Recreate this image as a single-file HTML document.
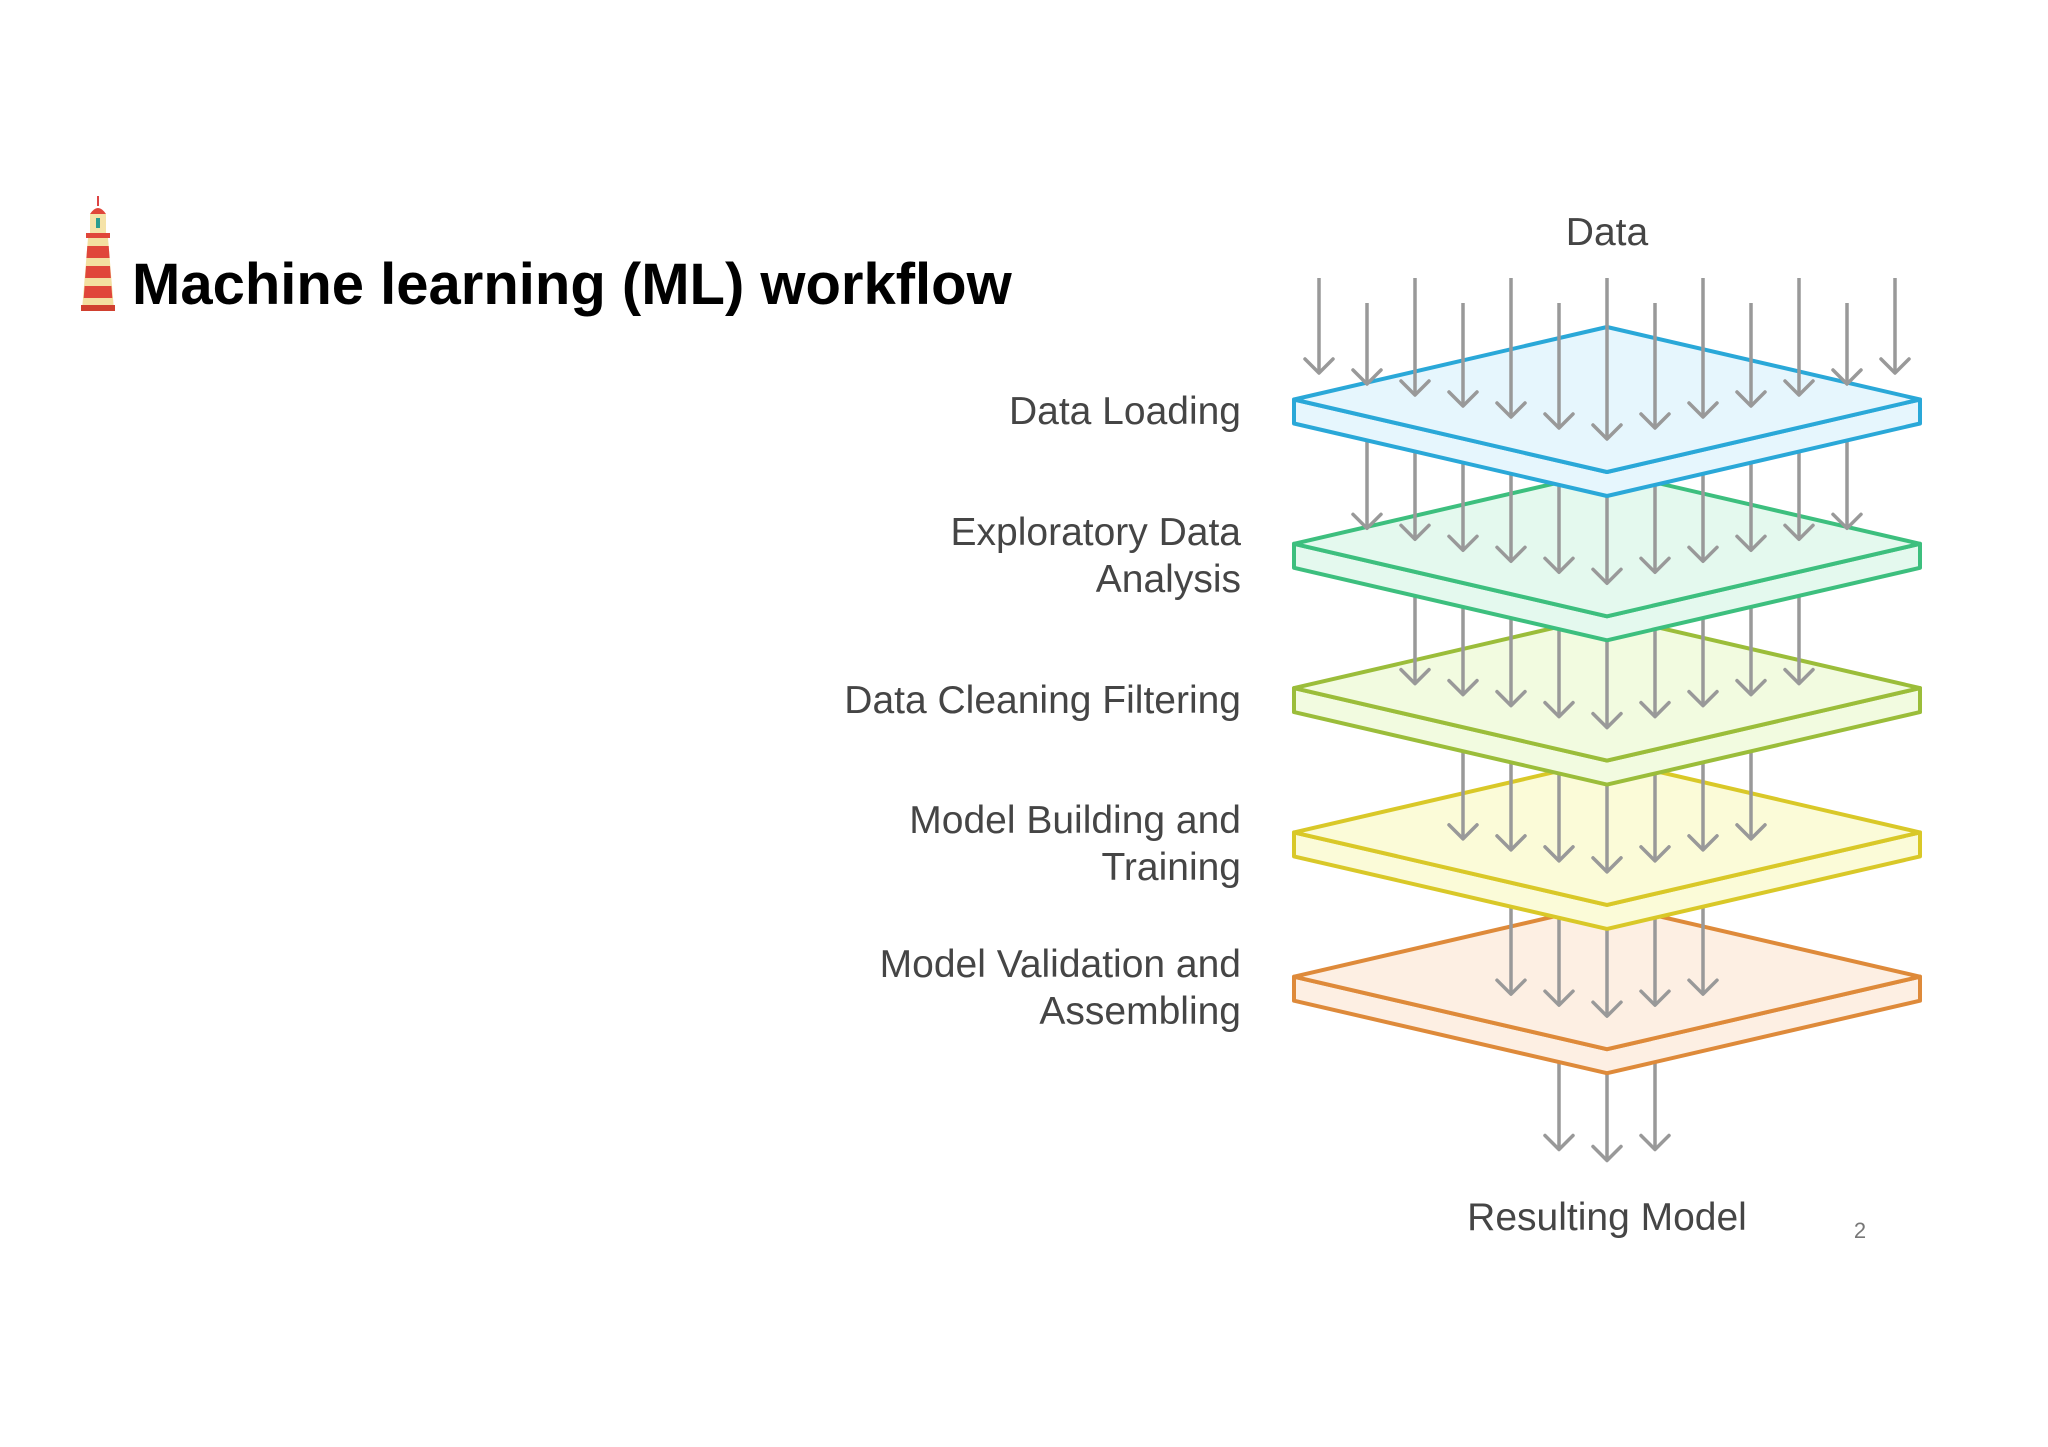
<!DOCTYPE html>
<html><head><meta charset="utf-8"><style>
html,body{margin:0;padding:0;background:#fff;}
svg{display:block;}
</style></head><body>
<svg width="2048" height="1447" viewBox="0 0 2048 1447" xmlns="http://www.w3.org/2000/svg">
<rect width="2048" height="1447" fill="#fff"/>
<g>
<line x1="98" y1="196" x2="98" y2="206" stroke="#d44" stroke-width="2"/>
<path d="M90 214 Q98 202 106 214 Z" fill="#e0463a"/>
<rect x="90" y="214" width="16" height="20" fill="#f5e3a8"/>
<rect x="96" y="218" width="4" height="10" fill="#2a9d8f"/>
<rect x="86" y="233" width="24" height="5" fill="#e0463a"/>
<path d="M88 238 L108 238 L114 310 L82 310 Z" fill="#f3dfa0"/>
<path d="M87.3 246 L108.7 246 L109.6 258 L86.4 258 Z" fill="#e0463a"/>
<path d="M86 266 L110 266 L110.9 278 L85.1 278 Z" fill="#e0463a"/>
<path d="M84.6 286 L111.4 286 L112.3 298 L83.7 298 Z" fill="#e0463a"/>
<rect x="81" y="305" width="34" height="6" fill="#d0402f"/>
</g>
<text x="132" y="304" font-family="Liberation Sans, sans-serif" font-weight="bold" font-size="58" fill="#000">Machine learning (ML) workflow</text>

<g font-family="Liberation Sans, sans-serif" font-size="39" fill="#454545">
<text x="1607" y="245" text-anchor="middle">Data</text>
<text x="1241" y="424" text-anchor="end">Data Loading</text>
<text x="1241" y="545" text-anchor="end">Exploratory Data</text>
<text x="1241" y="592" text-anchor="end">Analysis</text>
<text x="1241" y="713" text-anchor="end">Data Cleaning Filtering</text>
<text x="1241" y="833" text-anchor="end">Model Building and</text>
<text x="1241" y="880" text-anchor="end">Training</text>
<text x="1241" y="977" text-anchor="end">Model Validation and</text>
<text x="1241" y="1024" text-anchor="end">Assembling</text>
<text x="1607" y="1230" text-anchor="middle">Resulting Model</text>
</g>
<text x="1860" y="1238" text-anchor="middle" font-family="Liberation Sans, sans-serif" font-size="22" fill="#777">2</text>

<g id="diag" stroke-linejoin="round"></g>
<script>
(function(){
var g=document.getElementById('diag');
var NS='http://www.w3.org/2000/svg';
var cx=1607,hw=313,hh=72.5,th=24,sp=144.3,top0=327,col=48;
var layers=[['#2aa8d8','#e6f6fd'],['#3dbf7e','#e4f9ee'],['#9bbd3a','#f2fbe0'],['#d9c828','#fbfbd8'],['#de8a3a','#fdefe3']];
function el(n,a){var e=document.createElementNS(NS,n);for(var k in a)e.setAttribute(k,a[k]);g.appendChild(e);return e;}
function arrows(k,maxd,startFn){
  for(var d=-maxd;d<=maxd;d++){
    var x=cx+d*col, ad=Math.abs(d);
    var tip=439+sp*k-11*ad;
    var y0=startFn(ad);
    el('line',{x1:x,y1:y0,x2:x,y2:tip-1,stroke:'#999','stroke-width':3.5});
    el('polyline',{points:(x-14)+','+(tip-14)+' '+x+','+tip+' '+(x+14)+','+(tip-14),fill:'none',stroke:'#999','stroke-width':3.5,'stroke-linecap':'round'});
  }
}
function layer(i){
  var t=top0+sp*i, c=layers[i];
  var L=cx-hw,R=cx+hw,m=t+hh,b=t+2*hh;
  el('path',{d:'M'+L+' '+m+' L'+cx+' '+b+' L'+R+' '+m+' L'+R+' '+(m+th)+' L'+cx+' '+(b+th)+' L'+L+' '+(m+th)+' Z',fill:c[1],stroke:c[0],'stroke-width':4});
  el('path',{d:'M'+L+' '+m+' L'+cx+' '+t+' L'+R+' '+m+' L'+cx+' '+b+' Z',fill:c[1],stroke:c[0],'stroke-width':4});
}
arrows(5,1,function(){return 1000;});
for(var i=4;i>=0;i--){
  layer(i);
  if(i===0){arrows(0,6,function(ad){return ad%2===0?278:303;});}
  else{arrows(i,6-i,function(){return top0+sp*(i-1)+100;});}
}
})();
</script>
</svg>
</body></html>
